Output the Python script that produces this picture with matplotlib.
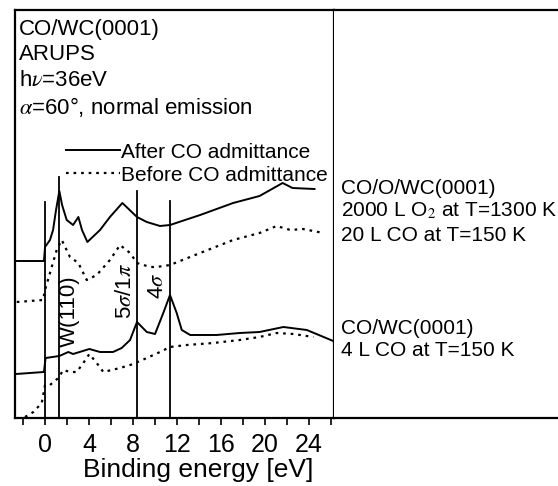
import matplotlib
matplotlib.use('Agg')
import matplotlib.pyplot as plt

plt.rcParams['font.family'] = ['Liberation Sans', 'DejaVu Sans']
plt.rcParams['mathtext.fontset'] = 'stix'

# binding energy (eV) and intensity (arb. units)
ox_after_e = [-2.64, -0.1, 0.0, 0.45, 0.73, 1.0, 1.3, 1.55, 1.97, 2.55, 3.03, 3.36, 3.85,
              5.0, 5.9, 7.03, 8.36, 9.25, 10.45, 11.36, 14.1, 17.1, 19.5, 21.6, 22.5, 24.5]
ox_after_i = [156, 156, 170, 177, 187, 207, 226, 212, 197, 192, 200, 187, 175,
              187, 200, 214, 200, 195, 191, 192, 202, 214, 221, 234, 229, 228]

ox_before_e = [-2.57, -0.18, 0.0, 0.45, 1.06, 1.52, 2.27, 3.03, 3.79, 4.7, 5.9, 6.82, 7.73,
               8.36, 9.55, 10.15, 11.36, 14.1, 17.1, 19.5, 21.06, 22.3, 23.45, 25.3]
ox_before_i = [115, 117, 127, 144, 167, 177, 160, 154, 137, 142, 157, 172, 164,
               154, 150, 150, 152, 164, 177, 184, 191, 187, 188, 184]

wc_after_e = [-2.64, -0.1, 0.05, 1.3, 2.12, 2.55, 4.03, 5.0, 6.18, 6.97, 7.73, 8.36, 9.25,
              10.0, 10.75, 11.36, 11.97, 12.43, 13.2, 15.6, 17.7, 19.5, 21.67, 23.8, 26.2]
wc_after_i = [43, 45, 59, 61, 65, 63, 68, 65, 65, 69, 77, 95, 85,
              83, 104, 122, 104, 87, 82, 82, 84, 85, 90, 87, 76]

wc_before_e = [-1.82, -1.06, -0.3, 0.0, 0.45, 1.21, 1.66, 2.27, 2.88, 3.48, 4.03, 4.7, 5.3,
               6.82, 8.03, 9.25, 10.45, 11.36, 12.88, 15.3, 17.7, 19.5, 21.06, 22.57, 24.4]
wc_before_i = [0, 5, 14, 32, 32, 39, 47, 45, 45, 54, 63, 54, 45,
               49, 53, 59, 65, 70, 72, 74, 77, 80, 84, 83, 80]

# marker lines: position (eV) and top (intensity)
mark_e = [0.0, 1.3, 8.36, 11.36]
mark_top = [215, 240, 226, 216]
mark_labels = ['', 'W(110)', r'5$\sigma$/1$\pi$', r'4$\sigma$']
label_e = [0, 2.25, 7.3, 10.2]
label_i = [0, 106, 126, 131]

fig = plt.figure(figsize=(5.58, 4.86), dpi=100)
ax = fig.add_axes([15 / 558, 1 - 418 / 486, 319 / 558, 408 / 486])

dots = (0, (1.2, 2.2))
ax.plot(ox_after_e, ox_after_i, color='black', lw=1.4, label='After CO admittance')
ax.plot(ox_before_e, ox_before_i, color='black', lw=1.6, linestyle=dots,
        label='Before CO admittance')
ax.plot(wc_after_e, wc_after_i, color='black', lw=1.4)
ax.plot(wc_before_e, wc_before_i, color='black', lw=1.6, linestyle=dots)

for e, top in zip(mark_e, mark_top):
    ax.plot([e, e], [-5, top], color='black', lw=1.3)
for txt, e, i in zip(mark_labels, label_e, label_i):
    if txt:
        ax.text(e, i, txt, rotation=90, ha='center', va='center', fontsize=16)

ax.set_xlim(-2.73, 26.27)
ax.set_ylim(-1, 407)
ax.set_yticks([])
ax.set_xticks([0, 4, 8, 12, 16, 20, 24])
ax.set_xticks([-2, 2, 6, 10, 14, 18, 22, 26], minor=True)
ax.tick_params(axis='x', which='both', direction='out', length=5, width=1.2)
ax.tick_params(axis='x', which='major', labelsize=18, pad=6)
ax.set_xlabel('Binding energy [eV]', fontsize=19, labelpad=0)
ax.xaxis.set_label_coords(0.574, -0.097)
for s in ax.spines.values():
    s.set_linewidth(1.6)

header = ['CO/WC(0001)', 'ARUPS', r'h$\nu$=36eV', r'$\alpha$=60°, normal emission']
header_y = [29, 55, 81, 107]
for txt, py in zip(header, header_y):
    fig.text(19 / 558, 1 - py / 486, txt, fontsize=16, va='center', ha='left')

ax.legend(loc='upper left', bbox_to_anchor=(0.16, 0.675), frameon=False, fontsize=15,
          handlelength=2.6, handletextpad=0.05, labelspacing=0.2, borderpad=0,
          borderaxespad=0)

# right panel with sample descriptions
ax2 = fig.add_axes([334 / 558, 1 - 418 / 486, 0.41, 408 / 486])
ax2.set_xticks([])
ax2.set_yticks([])
ax2.spines['left'].set_visible(False)
ax2.spines['right'].set_visible(False)
for s in ax2.spines.values():
    s.set_linewidth(1.6)

right_text = ['CO/O/WC(0001)', r'2000 L O$_2$ at T=1300 K', '20 L CO at T=150 K',
              'CO/WC(0001)', '4 L CO at T=150 K']
right_y = [188, 211, 235, 328, 351]
for txt, py in zip(right_text, right_y):
    fig.text(341 / 558, 1 - py / 486, txt, fontsize=15, va='center', ha='left')

fig.savefig('out.png', dpi=100)
